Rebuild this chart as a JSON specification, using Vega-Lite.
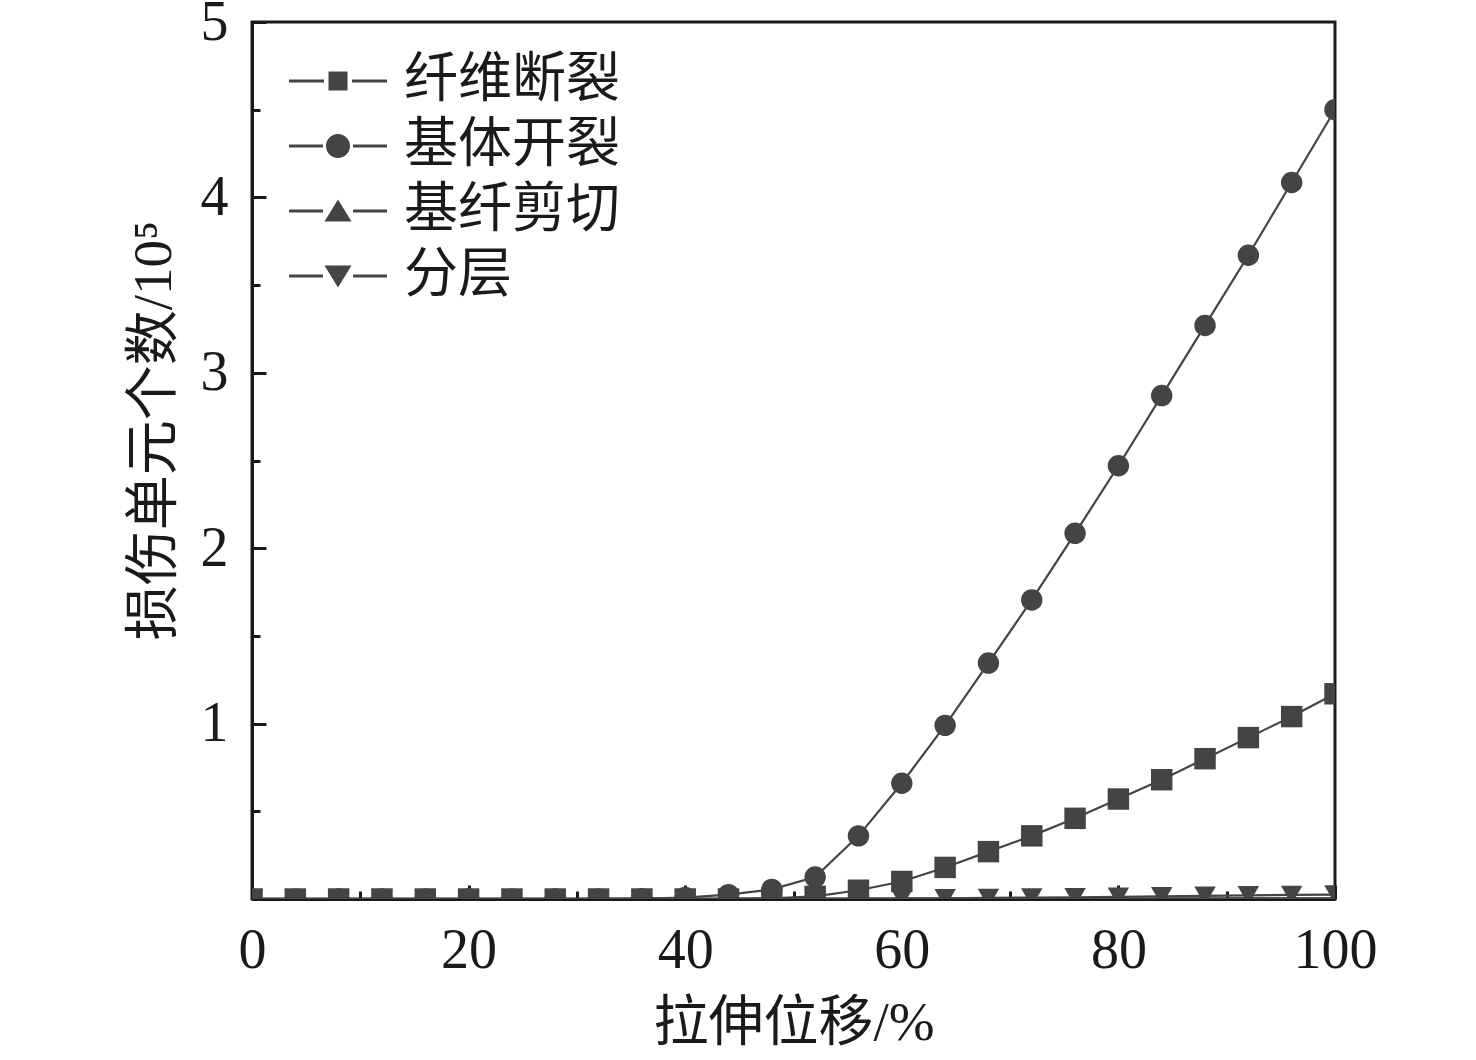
{
  "$schema": "https://vega.github.io/schema/vega-lite/v6.json",
  "autosize": {"type": "none"},
  "width": 1083,
  "height": 877,
  "padding": {"left": 252, "top": 22, "right": 141, "bottom": 161},
  "background": "white",
  "config": {
    "font": "Liberation Serif, Noto Sans CJK SC",
    "view": {"stroke": "#1a1a1a", "strokeWidth": 3}
  },
  "data": {
    "values": [
      {"x": 0, "纤维断裂": 0, "基体开裂": 0, "基纤剪切": 0, "分层": 0},
      {"x": 4, "纤维断裂": 0, "基体开裂": 0, "基纤剪切": 0, "分层": 0},
      {"x": 8, "纤维断裂": 0, "基体开裂": 0, "基纤剪切": 0, "分层": 0},
      {"x": 12, "纤维断裂": 0, "基体开裂": 0, "基纤剪切": 0, "分层": 0},
      {"x": 16, "纤维断裂": 0, "基体开裂": 0, "基纤剪切": 0, "分层": 0},
      {"x": 20, "纤维断裂": 0, "基体开裂": 0, "基纤剪切": 0, "分层": 0},
      {"x": 24, "纤维断裂": 0, "基体开裂": 0, "基纤剪切": 0, "分层": 0},
      {"x": 28, "纤维断裂": 0, "基体开裂": 0, "基纤剪切": 0, "分层": 0},
      {"x": 32, "纤维断裂": 0, "基体开裂": 0, "基纤剪切": 0, "分层": 0},
      {"x": 36, "纤维断裂": 0, "基体开裂": 0.002, "基纤剪切": 0, "分层": 0},
      {"x": 40, "纤维断裂": 0, "基体开裂": 0.008, "基纤剪切": 0, "分层": 0},
      {"x": 44, "纤维断裂": 0, "基体开裂": 0.025, "基纤剪切": 0, "分层": 0},
      {"x": 48, "纤维断裂": 0.004, "基体开裂": 0.055, "基纤剪切": 0, "分层": 0},
      {"x": 52, "纤维断裂": 0.015, "基体开裂": 0.125, "基纤剪切": 0, "分层": 0},
      {"x": 56, "纤维断裂": 0.05, "基体开裂": 0.36, "基纤剪切": 0, "分层": 0.001},
      {"x": 60, "纤维断裂": 0.1, "基体开裂": 0.66, "基纤剪切": 0, "分层": 0.002},
      {"x": 64, "纤维断裂": 0.18, "基体开裂": 0.99, "基纤剪切": 0, "分层": 0.004},
      {"x": 68, "纤维断裂": 0.27, "基体开裂": 1.345, "基纤剪切": 0, "分层": 0.006},
      {"x": 72, "纤维断裂": 0.36, "基体开裂": 1.705, "基纤剪切": 0, "分层": 0.008},
      {"x": 76, "纤维断裂": 0.46, "基体开裂": 2.085, "基纤剪切": 0.001, "分层": 0.01},
      {"x": 80, "纤维断裂": 0.57, "基体开裂": 2.47, "基纤剪切": 0.001, "分层": 0.012},
      {"x": 84, "纤维断裂": 0.68, "基体开裂": 2.87, "基纤剪切": 0.002, "分层": 0.015},
      {"x": 88, "纤维断裂": 0.8, "基体开裂": 3.27, "基纤剪切": 0.002, "分层": 0.018},
      {"x": 92, "纤维断裂": 0.92, "基体开裂": 3.67, "基纤剪切": 0.003, "分层": 0.021},
      {"x": 96, "纤维断裂": 1.04, "基体开裂": 4.085, "基纤剪切": 0.003, "分层": 0.023},
      {"x": 100, "纤维断裂": 1.17, "基体开裂": 4.5, "基纤剪切": 0.004, "分层": 0.025}
    ]
  },
  "transform": [
    {"fold": ["纤维断裂", "基体开裂", "基纤剪切", "分层"], "as": ["series", "value"]}
  ],
  "encoding": {
    "x": {
      "field": "x",
      "type": "quantitative",
      "scale": {"domain": [0, 100], "nice": false},
      "axis": {
        "title": "拉伸位移/%",
        "values": [0, 10, 20, 30, 40, 50, 60, 70, 80, 90, 100],
        "labelExpr": "datum.value % 20 === 0 ? datum.value : ''",
        "grid": false,
        "domainColor": "#1a1a1a",
        "domainWidth": 3,
        "tickColor": "#1a1a1a",
        "tickWidth": 3,
        "tickSize": {"condition": {"test": "datum.value % 20 !== 0", "value": -8}, "value": -14},
        "labelPadding": 38,
        "labelFont": "Liberation Serif",
        "labelFontSize": 56,
        "labelColor": "#1a1a1a",
        "labelFlush": false,
        "titleFont": "Liberation Serif, Noto Sans CJK SC",
        "titleFontSize": 55,
        "titleFontWeight": "normal",
        "titleColor": "#1a1a1a",
        "titlePadding": 18
      }
    },
    "y": {
      "field": "value",
      "type": "quantitative",
      "scale": {"domain": [0, 5], "nice": false},
      "axis": {
        "title": "损伤单元个数/10⁵",
        "titleY": 408,
        "values": [0, 0.5, 1, 1.5, 2, 2.5, 3, 3.5, 4, 4.5, 5],
        "labelExpr": "datum.value % 1 === 0 && datum.value > 0 ? datum.value : ''",
        "grid": false,
        "domainColor": "#1a1a1a",
        "domainWidth": 3,
        "tickColor": "#1a1a1a",
        "tickWidth": 3,
        "tickSize": {"condition": {"test": "datum.value % 1 !== 0", "value": -8}, "value": -14},
        "labelPadding": 38,
        "labelFont": "Liberation Serif",
        "labelFontSize": 56,
        "labelColor": "#1a1a1a",
        "labelFlush": false,
        "titleFont": "Liberation Serif, Noto Sans CJK SC",
        "titleFontSize": 55,
        "titleFontWeight": "normal",
        "titleColor": "#1a1a1a",
        "titlePadding": 18
      }
    }
  },
  "layer": [
    {
      "mark": {"type": "line", "color": "#444444", "strokeWidth": 2.2, "clip": true},
      "encoding": {"detail": {"field": "series"}}
    },
    {
      "mark": {"type": "point", "filled": true, "opacity": 1, "color": "#444444", "size": 460, "clip": true},
      "encoding": {
        "shape": {
          "field": "series",
          "type": "nominal",
          "scale": {
            "domain": ["纤维断裂", "基体开裂", "基纤剪切", "分层"],
            "range": ["square", "circle", "triangle-up", "triangle-down"]
          },
          "legend": null
        }
      }
    },
    {
      "transform": [{"filter": "datum.x < 0"}],
      "mark": {"type": "point", "filled": true, "opacity": 1, "color": "#444444", "size": 400},
      "encoding": {
        "shape": {
          "field": "series",
          "type": "nominal",
          "scale": {
            "domain": ["纤维断裂", "基体开裂", "基纤剪切", "分层"],
            "range": [
              "M-4.9,-0.15H-1.4V0.15H-4.9ZM1.4,-0.15H4.9V0.15H1.4ZM-0.95,-0.95H0.95V0.95H-0.95Z",
              "M-4.9,-0.15H-1.5V0.15H-4.9ZM1.5,-0.15H4.9V0.15H1.5ZM1.2,0A1.2,1.2 0 1,1 -1.2,0A1.2,1.2 0 1,1 1.2,0Z",
              "M-4.9,-0.15H-1.5V0.15H-4.9ZM1.5,-0.15H4.9V0.15H1.5ZM0,-1.15L1.35,1.05H-1.35Z",
              "M-4.9,-0.15H-1.5V0.15H-4.9ZM1.5,-0.15H4.9V0.15H1.5ZM0,1.15L1.35,-1.05H-1.35Z"
            ]
          },
          "legend": {
            "title": null,
            "orient": "none",
            "legendX": 59,
            "legendY": 32,
            "padding": 0,
            "symbolSize": 400,
            "symbolFillColor": "#444444",
            "symbolStrokeColor": "#444444",
            "labelOffset": 39,
            "labelLimit": 0,
            "rowPadding": 11,
            "labelFont": "Noto Sans CJK SC",
            "labelFontSize": 54,
            "labelColor": "#1a1a1a",
            "labelBaseline": "middle"
          }
        }
      }
    }
  ],
  "resolve": {"scale": {"shape": "independent"}}
}
